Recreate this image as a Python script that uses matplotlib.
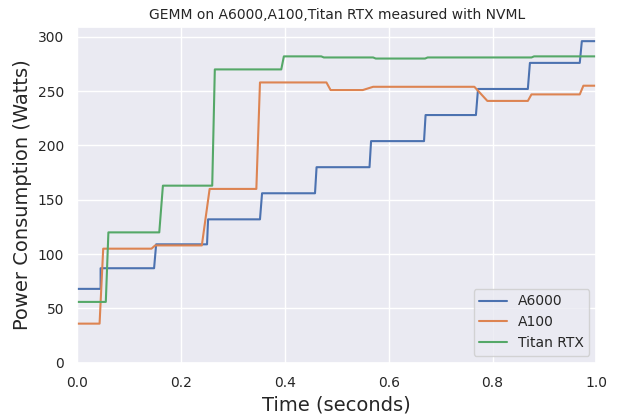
import matplotlib
matplotlib.use("Agg")
import matplotlib.pyplot as plt
import seaborn as sns

sns.set_theme(style="darkgrid")

# time breakpoints and power readings (Watts)
a6000_t = [0.0, 0.045, 0.045, 0.148, 0.152, 0.25, 0.252, 0.352, 0.356, 0.458, 0.461, 0.563, 0.566, 0.668, 0.671, 0.768, 0.772, 0.868, 0.872, 0.968, 0.972, 1.0]
a6000_p = [68, 68, 87, 87, 109, 109, 132, 132, 156, 156, 180, 180, 204, 204, 228, 228, 252, 252, 276, 276, 296, 296]

a100_t = [0.0, 0.043, 0.05, 0.143, 0.15, 0.24, 0.255, 0.345, 0.352, 0.48, 0.488, 0.55, 0.57, 0.765, 0.79, 0.868, 0.875, 0.968, 0.975, 1.0]
a100_p = [36, 36, 105, 105, 108, 108, 160, 160, 258, 258, 251, 251, 254, 254, 241, 241, 247, 247, 255, 255]

titan_t = [0.0, 0.055, 0.06, 0.158, 0.165, 0.26, 0.265, 0.393, 0.398, 0.47, 0.475, 0.57, 0.575, 0.67, 0.675, 0.77, 0.775, 0.875, 0.88, 1.0]
titan_p = [56, 56, 120, 120, 163, 163, 270, 270, 282, 282, 281, 281, 280, 280, 281, 281, 281, 281, 282, 282]

fig, ax = plt.subplots(figsize=(6.18, 4.16), dpi=100)
ax.plot(a6000_t, a6000_p, label="A6000")
ax.plot(a100_t, a100_p, label="A100")
ax.plot(titan_t, titan_p, label="Titan RTX")
ax.set_xlim(0, 1.0)
ax.set_ylim(0, 309)
ax.set_title("GEMM on A6000,A100,Titan RTX measured with NVML", fontsize=10)
ax.set_xlabel("Time (seconds)", fontsize=14)
ax.set_ylabel("Power Consumption (Watts)", fontsize=14)
ax.tick_params(labelsize=10)
ax.legend(loc="lower right", fontsize=10)
fig.subplots_adjust(left=0.125, right=0.965, top=0.935, bottom=0.128)
fig.savefig("out.png")
